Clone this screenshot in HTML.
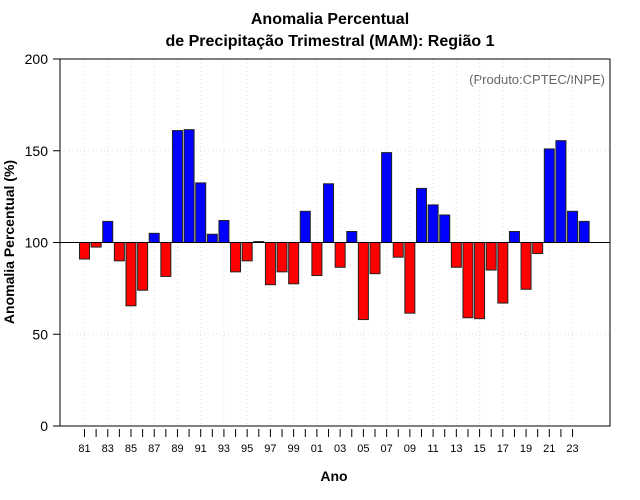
<!DOCTYPE html>
<html><head><meta charset="utf-8"><style>
body{margin:0;background:#fff}
svg{display:block;font-family:"Liberation Sans",sans-serif}
</style></head><body>
<svg id="c" width="640" height="500">
<text x="330" y="24" text-anchor="middle" font-size="16" font-weight="bold">Anomalia Percentual</text>
<text x="330" y="46" text-anchor="middle" font-size="16" font-weight="bold">de Precipitação Trimestral (MAM): Região 1</text>
<text x="605" y="84" text-anchor="end" font-size="13" fill="#666">(Produto:CPTEC/INPE)</text>
<text x="334" y="481" text-anchor="middle" font-size="14" font-weight="bold">Ano</text>
<text transform="translate(14,242) rotate(-90)" text-anchor="middle" font-size="14" font-weight="bold">Anomalia Percentual (%)</text>
<g id="grid"></g><g id="bars"></g><g id="axes"></g>
</svg>
<script>
const years=[81,82,83,84,85,86,87,88,89,90,91,92,93,94,95,96,97,98,99,0,1,2,3,4,5,6,7,8,9,10,11,12,13,14,15,16,17,18,19,20,21,22,23,24];
const values=[91,97.5,111.5,90,65.5,74,105,81.5,161,161.5,132.5,104.5,112,84,90,100.5,77,84,77.5,117,82,132,86.5,106,58,83,149,92,61.5,129.5,120.5,115,86.5,59,58.5,85,67,106,74.5,94,151,155.5,117,111.5];
const yTicks=[0,50,100,150,200];
const NS='http://www.w3.org/2000/svg';
const L=60,R=610,T=59,B=426;
const y=v=>B-(v/200)*(B-T);
const x=i=>84.5+i*11.62;
function mk(p,t,a){const e=document.createElementNS(NS,t);for(const k in a)e.setAttribute(k,a[k]);document.getElementById(p).appendChild(e);return e;}
const lab=n=>String(n).padStart(2,'0');
yTicks.forEach(v=>{
 if(v>0&&v<200){const g=mk('grid','line',{x1:L,x2:R,y1:y(v),y2:y(v),stroke:'#ddd','stroke-dasharray':'1,3'});
 
 }
 const t=mk('axes','line',{x1:L-7,x2:L,y1:y(v),y2:y(v),stroke:'#000'});
 
 
 const l=mk('axes','text',{x:L-12,y:y(v)+5,'text-anchor':'end','font-size':14});
 l.textContent=v;
 
 
});
years.forEach((yr,i)=>{
 if(i%2==0){const g=mk('grid','line',{x1:x(i),x2:x(i),y1:T,y2:B,stroke:'#ddd','stroke-dasharray':'1,3'});
 
 
 if(i<43){const l=mk('axes','text',{x:x(i),y:452,'text-anchor':'middle','font-size':11});
 l.textContent=lab(yr);
 
 }}
 if(i<43){const t=mk('axes','line',{x1:x(i),x2:x(i),y1:429,y2:437,stroke:'#000'});
 
 }
});
values.forEach((v,i)=>{
 const top=Math.min(y(v),y(100)),h=Math.abs(y(v)-y(100));
 const r=mk('bars','rect',{x:x(i)-5,y:top,width:10,height:Math.max(h,0.8),fill:v>=100?'#0000ff':'#ff0000',stroke:'#222','stroke-width':1});
 
 
});
const bl=mk('axes','line',{x1:L,x2:R,y1:y(100),y2:y(100),stroke:'#000'});


const fr=mk('axes','rect',{x:L,y:T,width:R-L,height:B-T,fill:'none',stroke:'#000'});


</script>
</body></html>
